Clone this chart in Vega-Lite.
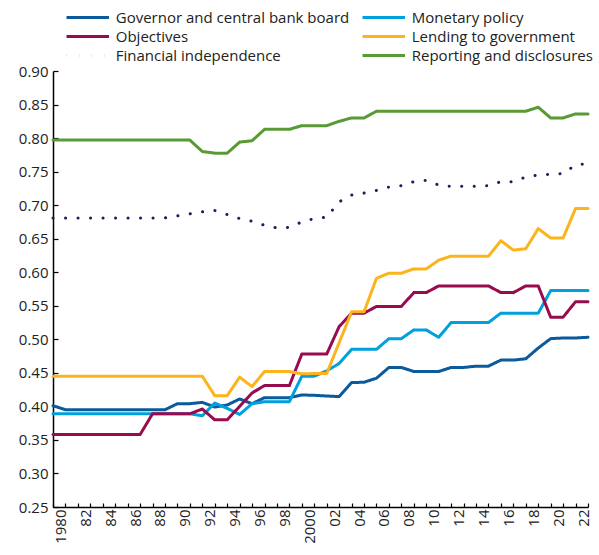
{
  "$schema": "https://vega.github.io/schema/vega-lite/v6.json",
  "width": 535,
  "height": 436,
  "autosize": {"type": "none"},
  "padding": {"left": 53, "top": 71, "right": 11, "bottom": 48},
  "background": "white",
  "config": {
    "font": "Open Sans",
    "view": {"stroke": null},
    "axis": {"labelFont": "Open Sans", "labelFontSize": 15, "labelColor": "#222222", "domainColor": "#000000", "domainWidth": 1.5, "tickColor": "#000000", "tickWidth": 1.2, "grid": false, "title": null}
  },
  "data": {"values": [
    {"year": 1979, "Governor and central bank board": 0.401, "Monetary policy": 0.389, "Objectives": 0.358, "Lending to government": 0.445, "Financial independence": 0.681, "Reporting and disclosures": 0.797},
    {"year": 1980, "Governor and central bank board": 0.395, "Monetary policy": 0.389, "Objectives": 0.358, "Lending to government": 0.445, "Financial independence": 0.681, "Reporting and disclosures": 0.797},
    {"year": 1981, "Governor and central bank board": 0.395, "Monetary policy": 0.389, "Objectives": 0.358, "Lending to government": 0.445, "Financial independence": 0.681, "Reporting and disclosures": 0.797},
    {"year": 1982, "Governor and central bank board": 0.395, "Monetary policy": 0.389, "Objectives": 0.358, "Lending to government": 0.445, "Financial independence": 0.681, "Reporting and disclosures": 0.797},
    {"year": 1983, "Governor and central bank board": 0.395, "Monetary policy": 0.389, "Objectives": 0.358, "Lending to government": 0.445, "Financial independence": 0.681, "Reporting and disclosures": 0.797},
    {"year": 1984, "Governor and central bank board": 0.395, "Monetary policy": 0.389, "Objectives": 0.358, "Lending to government": 0.445, "Financial independence": 0.681, "Reporting and disclosures": 0.797},
    {"year": 1985, "Governor and central bank board": 0.395, "Monetary policy": 0.389, "Objectives": 0.358, "Lending to government": 0.445, "Financial independence": 0.681, "Reporting and disclosures": 0.797},
    {"year": 1986, "Governor and central bank board": 0.395, "Monetary policy": 0.389, "Objectives": 0.358, "Lending to government": 0.445, "Financial independence": 0.681, "Reporting and disclosures": 0.797},
    {"year": 1987, "Governor and central bank board": 0.395, "Monetary policy": 0.389, "Objectives": 0.389, "Lending to government": 0.445, "Financial independence": 0.681, "Reporting and disclosures": 0.797},
    {"year": 1988, "Governor and central bank board": 0.395, "Monetary policy": 0.389, "Objectives": 0.389, "Lending to government": 0.445, "Financial independence": 0.681, "Reporting and disclosures": 0.797},
    {"year": 1989, "Governor and central bank board": 0.404, "Monetary policy": 0.389, "Objectives": 0.389, "Lending to government": 0.445, "Financial independence": 0.684, "Reporting and disclosures": 0.797},
    {"year": 1990, "Governor and central bank board": 0.404, "Monetary policy": 0.389, "Objectives": 0.389, "Lending to government": 0.445, "Financial independence": 0.687, "Reporting and disclosures": 0.797},
    {"year": 1991, "Governor and central bank board": 0.406, "Monetary policy": 0.386, "Objectives": 0.396, "Lending to government": 0.445, "Financial independence": 0.690, "Reporting and disclosures": 0.780},
    {"year": 1992, "Governor and central bank board": 0.399, "Monetary policy": 0.405, "Objectives": 0.380, "Lending to government": 0.416, "Financial independence": 0.692, "Reporting and disclosures": 0.7775},
    {"year": 1993, "Governor and central bank board": 0.402, "Monetary policy": 0.397, "Objectives": 0.380, "Lending to government": 0.416, "Financial independence": 0.686, "Reporting and disclosures": 0.7775},
    {"year": 1994, "Governor and central bank board": 0.411, "Monetary policy": 0.388, "Objectives": 0.400, "Lending to government": 0.4435, "Financial independence": 0.680, "Reporting and disclosures": 0.794},
    {"year": 1995, "Governor and central bank board": 0.404, "Monetary policy": 0.404, "Objectives": 0.420, "Lending to government": 0.4295, "Financial independence": 0.676, "Reporting and disclosures": 0.796},
    {"year": 1996, "Governor and central bank board": 0.413, "Monetary policy": 0.407, "Objectives": 0.431, "Lending to government": 0.452, "Financial independence": 0.670, "Reporting and disclosures": 0.813},
    {"year": 1997, "Governor and central bank board": 0.413, "Monetary policy": 0.407, "Objectives": 0.431, "Lending to government": 0.452, "Financial independence": 0.666, "Reporting and disclosures": 0.813},
    {"year": 1998, "Governor and central bank board": 0.413, "Monetary policy": 0.407, "Objectives": 0.431, "Lending to government": 0.452, "Financial independence": 0.667, "Reporting and disclosures": 0.813},
    {"year": 1999, "Governor and central bank board": 0.417, "Monetary policy": 0.445, "Objectives": 0.478, "Lending to government": 0.4485, "Financial independence": 0.675, "Reporting and disclosures": 0.8185},
    {"year": 2000, "Governor and central bank board": 0.4165, "Monetary policy": 0.445, "Objectives": 0.478, "Lending to government": 0.449, "Financial independence": 0.680, "Reporting and disclosures": 0.8185},
    {"year": 2001, "Governor and central bank board": 0.4155, "Monetary policy": 0.453, "Objectives": 0.478, "Lending to government": 0.449, "Financial independence": 0.682, "Reporting and disclosures": 0.8185},
    {"year": 2002, "Governor and central bank board": 0.4146, "Monetary policy": 0.464, "Objectives": 0.519, "Lending to government": 0.495, "Financial independence": 0.705, "Reporting and disclosures": 0.825},
    {"year": 2003, "Governor and central bank board": 0.4355, "Monetary policy": 0.485, "Objectives": 0.539, "Lending to government": 0.541, "Financial independence": 0.715, "Reporting and disclosures": 0.830},
    {"year": 2004, "Governor and central bank board": 0.436, "Monetary policy": 0.485, "Objectives": 0.539, "Lending to government": 0.541, "Financial independence": 0.718, "Reporting and disclosures": 0.830},
    {"year": 2005, "Governor and central bank board": 0.442, "Monetary policy": 0.485, "Objectives": 0.549, "Lending to government": 0.591, "Financial independence": 0.722, "Reporting and disclosures": 0.840},
    {"year": 2006, "Governor and central bank board": 0.458, "Monetary policy": 0.501, "Objectives": 0.549, "Lending to government": 0.5985, "Financial independence": 0.727, "Reporting and disclosures": 0.840},
    {"year": 2007, "Governor and central bank board": 0.458, "Monetary policy": 0.501, "Objectives": 0.549, "Lending to government": 0.5985, "Financial independence": 0.729, "Reporting and disclosures": 0.840},
    {"year": 2008, "Governor and central bank board": 0.452, "Monetary policy": 0.514, "Objectives": 0.5696, "Lending to government": 0.605, "Financial independence": 0.735, "Reporting and disclosures": 0.840},
    {"year": 2009, "Governor and central bank board": 0.452, "Monetary policy": 0.514, "Objectives": 0.5696, "Lending to government": 0.605, "Financial independence": 0.737, "Reporting and disclosures": 0.840},
    {"year": 2010, "Governor and central bank board": 0.452, "Monetary policy": 0.503, "Objectives": 0.5796, "Lending to government": 0.618, "Financial independence": 0.730, "Reporting and disclosures": 0.840},
    {"year": 2011, "Governor and central bank board": 0.458, "Monetary policy": 0.525, "Objectives": 0.5796, "Lending to government": 0.624, "Financial independence": 0.728, "Reporting and disclosures": 0.840},
    {"year": 2012, "Governor and central bank board": 0.458, "Monetary policy": 0.525, "Objectives": 0.5796, "Lending to government": 0.624, "Financial independence": 0.728, "Reporting and disclosures": 0.840},
    {"year": 2013, "Governor and central bank board": 0.460, "Monetary policy": 0.525, "Objectives": 0.5796, "Lending to government": 0.624, "Financial independence": 0.728, "Reporting and disclosures": 0.840},
    {"year": 2014, "Governor and central bank board": 0.460, "Monetary policy": 0.525, "Objectives": 0.5796, "Lending to government": 0.624, "Financial independence": 0.729, "Reporting and disclosures": 0.840},
    {"year": 2015, "Governor and central bank board": 0.469, "Monetary policy": 0.539, "Objectives": 0.5696, "Lending to government": 0.647, "Financial independence": 0.735, "Reporting and disclosures": 0.840},
    {"year": 2016, "Governor and central bank board": 0.469, "Monetary policy": 0.539, "Objectives": 0.5696, "Lending to government": 0.633, "Financial independence": 0.735, "Reporting and disclosures": 0.840},
    {"year": 2017, "Governor and central bank board": 0.471, "Monetary policy": 0.539, "Objectives": 0.5796, "Lending to government": 0.635, "Financial independence": 0.742, "Reporting and disclosures": 0.840},
    {"year": 2018, "Governor and central bank board": 0.487, "Monetary policy": 0.539, "Objectives": 0.5796, "Lending to government": 0.665, "Financial independence": 0.745, "Reporting and disclosures": 0.846},
    {"year": 2019, "Governor and central bank board": 0.501, "Monetary policy": 0.5726, "Objectives": 0.533, "Lending to government": 0.651, "Financial independence": 0.746, "Reporting and disclosures": 0.830},
    {"year": 2020, "Governor and central bank board": 0.502, "Monetary policy": 0.5726, "Objectives": 0.533, "Lending to government": 0.651, "Financial independence": 0.747, "Reporting and disclosures": 0.830},
    {"year": 2021, "Governor and central bank board": 0.502, "Monetary policy": 0.5726, "Objectives": 0.556, "Lending to government": 0.695, "Financial independence": 0.760, "Reporting and disclosures": 0.836},
    {"year": 2022, "Governor and central bank board": 0.503, "Monetary policy": 0.5726, "Objectives": 0.556, "Lending to government": 0.695, "Financial independence": 0.762, "Reporting and disclosures": 0.836}
  ]},
  "transform": [
    {"fold": ["Governor and central bank board", "Monetary policy", "Objectives", "Lending to government", "Financial independence", "Reporting and disclosures"], "as": ["series", "value"]}
  ],
  "mark": {"type": "line", "strokeCap": "round", "strokeJoin": "round"},
  "encoding": {
    "x": {
      "field": "year", "type": "quantitative",
      "scale": {"domain": [1979, 2022], "nice": false, "zero": false},
      "axis": {
        "values": [1979,1980,1981,1982,1983,1984,1985,1986,1987,1988,1989,1990,1991,1992,1993,1994,1995,1996,1997,1998,1999,2000,2001,2002,2003,2004,2005,2006,2007,2008,2009,2010,2011,2012,2013,2014,2015,2016,2017,2018,2019,2020,2021,2022],
        "labelExpr": "datum.value == 1980 || datum.value == 2000 ? '' + datum.value : (datum.value % 2 == 0 ? substring('' + datum.value, 2, 4) : '')",
        "labelAngle": 270,
        "labelOverlap": false,
        "labelFlush": false,
        "labelOffset": -5,
        "tickSize": -4,
        "labelPadding": 6
      }
    },
    "y": {
      "field": "value", "type": "quantitative",
      "scale": {"domain": [0.25, 0.9], "nice": false, "zero": false},
      "axis": {
        "values": [0.25,0.3,0.35,0.4,0.45,0.5,0.55,0.6,0.65,0.7,0.75,0.8,0.85,0.9],
        "format": ".2f",
        "tickSize": -5,
        "labelPadding": 10
      }
    },
    "strokeWidth": {
      "field": "series", "type": "nominal",
      "scale": {
        "domain": ["Governor and central bank board", "Monetary policy", "Objectives", "Lending to government", "Financial independence", "Reporting and disclosures"],
        "range": [3, 3, 3, 3, 4.5, 3]
      },
      "legend": null
    },
    "color": {
      "field": "series", "type": "nominal",
      "scale": {
        "domain": ["Governor and central bank board", "Monetary policy", "Objectives", "Lending to government", "Financial independence", "Reporting and disclosures"],
        "range": ["#0b5b9c", "#00a0dc", "#980c4f", "#fbb41c", "#1c1f5c", "#5a9a34"]
      },
      "legend": {"orient": "none", "legendX": 24.75, "legendY": -63.5, "columns": 2, "direction": "horizontal", "title": null, "symbolType": "M-2.5,0H2.5", "symbolStrokeWidth": 3.5, "symbolSize": 289, "labelFontSize": 15, "labelColor": "#222222", "labelLimit": 0, "columnPadding": 6, "rowPadding": 1, "labelOffset": 18}
    },
    "strokeDash": {
      "field": "series", "type": "nominal",
      "scale": {
        "domain": ["Governor and central bank board", "Monetary policy", "Objectives", "Lending to government", "Financial independence", "Reporting and disclosures"],
        "range": [[1, 0], [1, 0], [1, 0], [1, 0], [0.1, 12.4], [1, 0]]
      },
      "legend": {"orient": "none", "legendX": 24.75, "legendY": -63.5, "columns": 2, "direction": "horizontal", "title": null, "symbolType": "M-2.5,0H2.5", "symbolStrokeWidth": 3.5, "symbolSize": 289, "labelFontSize": 15, "labelColor": "#222222", "labelLimit": 0, "columnPadding": 6, "rowPadding": 1, "labelOffset": 18}
    }
  }
}
